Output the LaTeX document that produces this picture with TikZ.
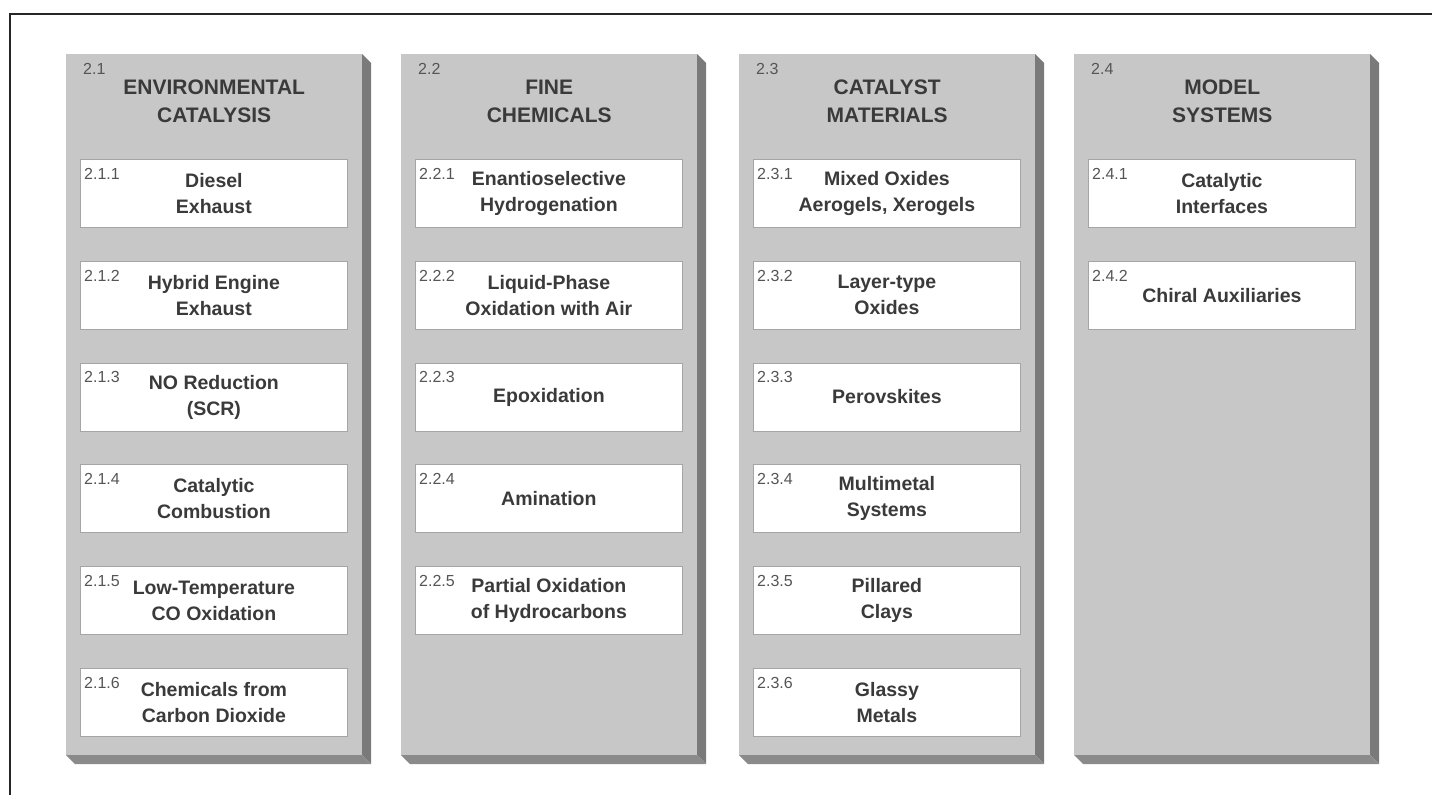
\documentclass[tikz,border=0pt]{standalone}
\usepackage{fontspec}
\setmainfont{Liberation Sans}
\definecolor{facegray}{RGB}{199,199,199}
\definecolor{sidegray}{RGB}{122,122,122}
\definecolor{basegray}{RGB}{138,138,138}
\definecolor{boxedge}{RGB}{165,165,165}
\definecolor{ink}{RGB}{58,58,58}
\definecolor{numink}{RGB}{85,85,85}

% one shaded column: #1 name, #2 left edge, #3 section number, #4 heading
\newcommand\catcolumn[4]{%
  \fill[sidegray] (#2+296,54) -- (#2+305,63) -- (#2+305,764) -- (#2+296,755) -- cycle;
  \fill[basegray] (#2,755) -- (#2+9,764) -- (#2+305,764) -- (#2+296,755) -- cycle;
  \node[colface] (#1) at (#2,54) {};
  \node[secnum] (#1-num) at ([xshift=17pt,yshift=-9pt]#1.north west) {#3};
  \node[heading] (#1-head) at ([yshift=-47pt]#1.north) {#4};
}
% one white entry box: #1 column node, #2 row (0..5), #3 name, #4 number, #5 text
\newcommand\catitem[5]{%
  \node[itembox] (#3) at ([xshift=14pt,yshift={-105pt-101.8pt*#2}]#1.north west) {#5};
  \node[itemnum] (#3-num) at ([xshift=4pt,yshift=-9pt]#3.north west) {#4};
}

\begin{document}
\begin{tikzpicture}[x=1pt,y=-1pt,
  colface/.style={fill=facegray, draw=none, inner sep=0pt, anchor=north west,
    minimum width=296pt, minimum height=701pt},
  secnum/.style={anchor=north west, inner sep=0pt, text=numink,
    font=\fontsize{16}{18}\selectfont},
  heading/.style={inner sep=0pt, align=center, text=ink,
    font=\fontsize{21}{28}\selectfont\bfseries},
  itembox/.style={fill=white, draw=boxedge, line width=0.8pt, anchor=north west,
    minimum width=267pt, minimum height=68pt, inner sep=0pt, align=center,
    text=ink, font=\fontsize{19.5}{26}\selectfont\bfseries},
  itemnum/.style={anchor=north west, inner sep=0pt, text=numink,
    font=\fontsize{16}{18}\selectfont},
]
\useasboundingbox (0,0) rectangle (1432,795);

% page frame (top and left rules)
\coordinate (frameBL) at (10,795);
\coordinate (frameTL) at (10,14);
\coordinate (frameTR) at (1432,14);
\draw[line width=2pt, black!85] (frameBL) -- (frameTL) -- (frameTR);

% 2.1
\catcolumn{envcat}{66}{2.1}{ENVIRONMENTAL\\CATALYSIS}
\catitem{envcat}{0}{diesel}{2.1.1}{Diesel\\Exhaust}
\catitem{envcat}{1}{hybrid}{2.1.2}{Hybrid Engine\\Exhaust}
\catitem{envcat}{2}{nored}{2.1.3}{NO Reduction\\(SCR)}
\catitem{envcat}{3}{catcomb}{2.1.4}{Catalytic\\Combustion}
\catitem{envcat}{4}{lowtemp}{2.1.5}{Low-Temperature\\CO Oxidation}
\catitem{envcat}{5}{cotwo}{2.1.6}{Chemicals from\\Carbon Dioxide}

% 2.2
\catcolumn{finechem}{401}{2.2}{FINE\\CHEMICALS}
\catitem{finechem}{0}{enantio}{2.2.1}{Enantioselective\\Hydrogenation}
\catitem{finechem}{1}{liqox}{2.2.2}{Liquid-Phase\\Oxidation with Air}
\catitem{finechem}{2}{epox}{2.2.3}{Epoxidation}
\catitem{finechem}{3}{amin}{2.2.4}{Amination}
\catitem{finechem}{4}{partox}{2.2.5}{Partial Oxidation\\of Hydrocarbons}

% 2.3
\catcolumn{catmat}{739}{2.3}{CATALYST\\MATERIALS}
\catitem{catmat}{0}{mixox}{2.3.1}{Mixed Oxides\\Aerogels, Xerogels}
\catitem{catmat}{1}{layer}{2.3.2}{Layer-type\\Oxides}
\catitem{catmat}{2}{perov}{2.3.3}{Perovskites}
\catitem{catmat}{3}{multi}{2.3.4}{Multimetal\\Systems}
\catitem{catmat}{4}{pillar}{2.3.5}{Pillared\\Clays}
\catitem{catmat}{5}{glassy}{2.3.6}{Glassy\\Metals}

% 2.4
\catcolumn{modsys}{1074}{2.4}{MODEL\\SYSTEMS}
\catitem{modsys}{0}{interf}{2.4.1}{Catalytic\\Interfaces}
\catitem{modsys}{1}{chiral}{2.4.2}{Chiral Auxiliaries}
\end{tikzpicture}
\end{document}
